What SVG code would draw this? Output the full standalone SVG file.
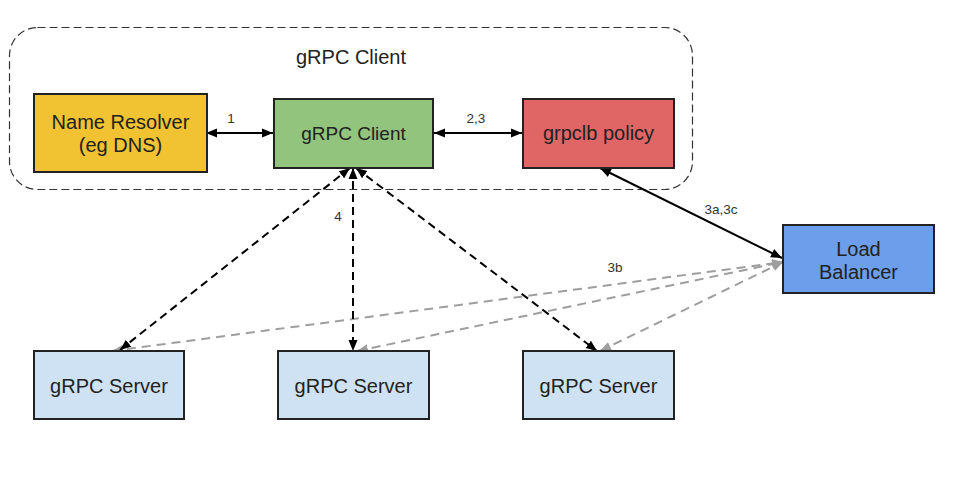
<svg xmlns="http://www.w3.org/2000/svg" width="956" height="490" viewBox="0 0 956 490">
<defs>
<style>
text{font-family:"Liberation Sans",Arial,sans-serif;fill:#222}
.node{stroke:#222;stroke-width:2}
.nt{font-size:20px;text-anchor:middle}
.lbl{font-size:13.5px;text-anchor:middle;fill:#333}
.solid{stroke:#000;stroke-width:2;fill:none;marker-start:url(#ab);marker-end:url(#ab)}
.dash{stroke:#000;stroke-width:2;fill:none;stroke-dasharray:8 5;marker-start:url(#ab);marker-end:url(#ab)}
.grey{stroke:#9e9e9e;stroke-width:2;fill:none;stroke-dasharray:9 6;marker-start:url(#ag);marker-end:url(#ag)}
</style>
<marker id="ab" markerUnits="userSpaceOnUse" markerWidth="12" markerHeight="10" refX="11" refY="5" orient="auto-start-reverse"><path d="M0,0.5 L11,5 L0,9.5 z" fill="#000"/></marker>
<marker id="ag" markerUnits="userSpaceOnUse" markerWidth="12" markerHeight="10" refX="11" refY="5" orient="auto-start-reverse"><path d="M0,0.5 L11,5 L0,9.5 z" fill="#9e9e9e"/></marker>
</defs>
<rect width="956" height="490" fill="#fff"/>
<g id="container">
<rect x="9.5" y="27.5" width="683" height="162" rx="28" ry="28" fill="none" stroke="#333" stroke-width="1.2" stroke-dasharray="8 4"/>
<text x="351" y="64" font-size="20" text-anchor="middle">gRPC Client</text>
</g>
<g id="connectors">
<line class="grey" x1="112" y1="351" x2="783" y2="262"/>
<line class="grey" x1="357" y1="351" x2="783" y2="262"/>
<line class="grey" x1="600" y1="351" x2="783" y2="262"/>
<line class="solid" x1="206" y1="133" x2="273" y2="133"/>
<line class="solid" x1="434" y1="133" x2="522" y2="133"/>
<line class="solid" x1="600" y1="168" x2="782" y2="258"/>
<line class="dash" x1="350" y1="168" x2="120" y2="350"/>
<line class="dash" x1="353" y1="168" x2="353" y2="351"/>
<line class="dash" x1="356" y1="168" x2="597" y2="351"/>
<text class="lbl" x="231" y="123">1</text>
<text class="lbl" x="476" y="123">2,3</text>
<text class="lbl" x="721" y="214">3a,3c</text>
<text class="lbl" x="338" y="221">4</text>
<text class="lbl" x="615" y="272">3b</text>
</g>
<g id="name-resolver">
<rect class="node" x="34" y="94" width="173" height="78" fill="#f1c232"/>
<text class="nt" x="120.5" y="129">Name Resolver</text>
<text class="nt" x="120.5" y="152">(eg DNS)</text>
</g>
<g id="grpc-client">
<rect class="node" x="274" y="99" width="159" height="69" fill="#93c47d"/>
<text class="nt" x="353.5" y="140" style="font-size:19px">gRPC Client</text>
</g>
<g id="grpclb-policy">
<rect class="node" x="523" y="99" width="151" height="69" fill="#e06666"/>
<text class="nt" x="598.5" y="140">grpclb policy</text>
</g>
<g id="load-balancer">
<rect class="node" x="783" y="225" width="151" height="68" fill="#6d9eeb"/>
<text class="nt" x="858.5" y="256">Load</text>
<text class="nt" x="858.5" y="279">Balancer</text>
</g>
<g id="server-1">
<rect class="node" x="34" y="351" width="150" height="68" fill="#cfe2f3"/>
<text class="nt" x="109" y="393">gRPC Server</text>
</g>
<g id="server-2">
<rect class="node" x="278" y="351" width="151" height="68" fill="#cfe2f3"/>
<text class="nt" x="353.5" y="393">gRPC Server</text>
</g>
<g id="server-3">
<rect class="node" x="523" y="351" width="151" height="68" fill="#cfe2f3"/>
<text class="nt" x="598.5" y="393">gRPC Server</text>
</g>
</svg>
